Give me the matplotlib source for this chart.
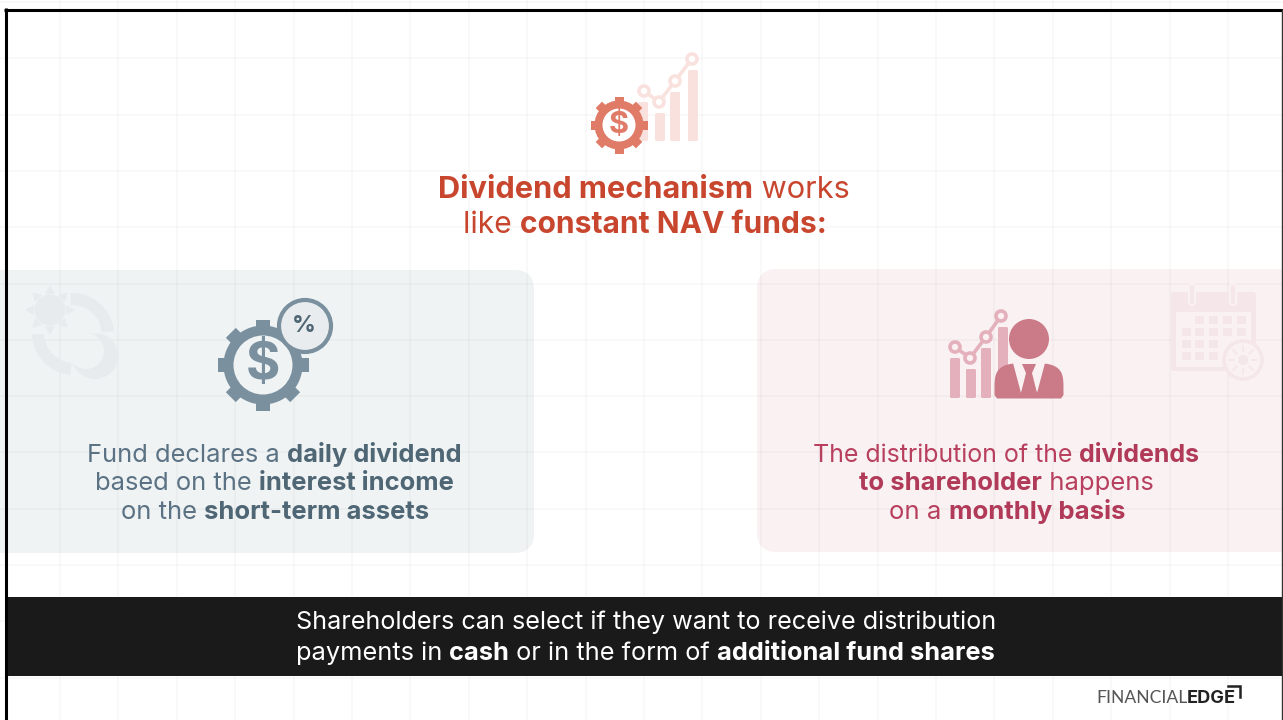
import numpy as np
import matplotlib
matplotlib.use("Agg")
import matplotlib.pyplot as plt
from matplotlib.patches import Circle, FancyBboxPatch, Polygon, Rectangle

FONT = "Inter"

# text, each run is (string, bold)
title_lines = [
    [("Dividend mechanism", True), (" works", False)],
    [("like ", False), ("constant NAV funds:", True)],
]
left_lines = [
    [("Fund declares a ", False), ("daily dividend", True)],
    [("based on the ", False), ("interest income", True)],
    [("on the ", False), ("short-term assets", True)],
]
right_lines = [
    [("The distribution of the ", False), ("dividends", True)],
    [("to shareholder", True), (" happens", False)],
    [("on a ", False), ("monthly basis", True)],
]
band_lines = [
    [("Shareholders can select if they want to receive distribution", False)],
    [("payments in ", False), ("cash", True), (" or in the form of ", False), ("additional fund shares", True)],
]

# icon chart bars (height tops in px)
top_bar_x = [638, 655, 670, 688]
top_bar_top = [102, 113, 92, 70]
top_line_x = [644, 659, 675, 692]
top_line_y = [91, 102, 81, 59]
person_bar_x = [950, 966, 981, 998]
person_bar_top = [358, 369, 348, 327]
person_line_x = [955, 970, 986, 1001]
person_line_y = [347, 358, 337, 316]

# calendar cells: row y, column x
cal_cols = [1186, 1199, 1213, 1227, 1241]
cal_rows = [320, 332, 344, 356]
cal_used = [[1, 2, 3, 4], [0, 1, 2, 3, 4], [0, 1, 2], [0, 1, 2]]

grid_x = [60 + 58.4 * i for i in range(21)]
grid_y = [2 + 56.3 * i for i in range(13)]

fig = plt.figure(figsize=(12.83, 7.2), dpi=100)
ax = fig.add_axes([0, 0, 1, 1])
ax.set_xlim(0, 1283)
ax.set_ylim(720, 0)
ax.axis("off")


def run_width(s, bold, size, family=FONT):
    # x on both sides so the spaces get counted
    t1 = ax.text(0, 0, "x" + s + "x", fontsize=size, family=family, fontweight="bold" if bold else "normal")
    t2 = ax.text(0, 0, "xx", fontsize=size, family=family, fontweight="bold" if bold else "normal")
    r = fig.canvas.get_renderer()
    w = t1.get_window_extent(r).width - t2.get_window_extent(r).width
    t1.remove()
    t2.remove()
    return w


def rich_line(runs, left, width, y, size, color, bold_color=None, family=FONT):
    # sized to the width of the line, starts at left
    total = sum(run_width(s, b, size, family) for s, b in runs)
    size2 = size * width / total
    x = left
    for s, b in runs:
        c = (bold_color or color) if b else color
        ax.text(x, y, s, fontsize=size2, family=family, fontweight="bold" if b else "normal",
                color=c, va="baseline", ha="left", zorder=6)
        x += run_width(s, b, size2, family)


def ring(cx, cy, r, fill, edge, lw):
    ax.add_patch(Circle((cx, cy), r, facecolor=fill, edgecolor=edge, linewidth=lw, zorder=5))


def gear(cx, cy, r_out, r_body, r_in, color, fill, n=8, tooth=None):
    tooth = tooth or r_out * 0.32
    for i in range(n):
        a = i * 2 * np.pi / n
        ca, sa = np.cos(a), np.sin(a)
        pts = [(-tooth / 2, r_body - 2), (tooth / 2, r_body - 2), (tooth / 2, r_out), (-tooth / 2, r_out)]
        pts = [(cx + px * ca - py * sa, cy + px * sa + py * ca) for px, py in pts]
        ax.add_patch(Polygon(pts, closed=True, facecolor=color, edgecolor="none", zorder=4))
    ax.add_patch(Circle((cx, cy), r_body, facecolor=color, edgecolor="none", zorder=4))
    ax.add_patch(Circle((cx, cy), r_in, facecolor=fill, edgecolor="none", zorder=4))


def arc_band(cx, cy, r1, r2, a1, a2, color):
    a = np.radians(np.linspace(a1, a2, 40))
    pts = np.r_[np.c_[cx + r2 * np.cos(a), cy + r2 * np.sin(a)],
                np.c_[cx + r1 * np.cos(a[::-1]), cy + r1 * np.sin(a[::-1])]]
    ax.add_patch(Polygon(pts, closed=True, facecolor=color, edgecolor="none", zorder=3))


def bars_line(bar_x, bar_top, line_x, line_y, bottom, w, color, fill, lw, r):
    for x, t in zip(bar_x, bar_top):
        ax.add_patch(FancyBboxPatch((x, t), w, bottom - t, boxstyle="round,pad=0,rounding_size=1.5",
                                    facecolor=color, edgecolor="none", zorder=3))
    ax.plot(line_x, line_y, color=color, lw=lw, zorder=3)
    for x, y in zip(line_x, line_y):
        ax.add_patch(Circle((x, y), r, facecolor=fill, edgecolor=color, linewidth=lw, zorder=3))


# cards
ax.add_patch(FancyBboxPatch((-40, 270), 574, 283, boxstyle="round,pad=0,rounding_size=20",
                            facecolor="#EFF3F4", edgecolor="none", zorder=1))
ax.add_patch(FancyBboxPatch((757, 269), 580, 283, boxstyle="round,pad=0,rounding_size=20",
                            facecolor="#FAF1F3", edgecolor="none", zorder=1))

# background grid, see-through so it shows on the cards too
for x in grid_x:
    ax.plot([x, x], [0, 720], color="black", alpha=0.028, lw=1.3, zorder=2)
for y in grid_y:
    ax.plot([0, 1283], [y, y], color="black", alpha=0.028, lw=1.3, zorder=2)

# top icon
bars_line(top_bar_x, top_bar_top, top_line_x, top_line_y, 141, 10, "#F9E2DE", "white", 2.6, 5)
gear(619, 125, 28.5, 24.5, 16.5, "#E07B68", "white", tooth=9)
ax.text(619, 125, "$", fontsize=22, family=FONT, fontweight="bold", color="#E07B68", ha="center", va="center", zorder=5)

# left big gear
gear(263, 365, 45.5, 39.5, 29.5, "#7A909F", "#EFF3F4", tooth=14)
ax.text(263, 365, "$", fontsize=38, family=FONT, fontweight="bold", color="#7A909F", ha="center", va="center", zorder=5)
ring(305, 326, 26, "#E8ECEE", "#7A909F", 3)
ax.text(304, 326, "%", fontsize=17, family=FONT, fontweight="bold", color="#4F6675", ha="center", va="center", zorder=6)

# faded sun and cycle arrows
sun_c = "#E7EBEE"
for i in range(8):
    a = i * np.pi / 4 - np.pi / 2
    tip = (50 + 25 * np.cos(a), 310 + 25 * np.sin(a))
    p1 = (50 + 17 * np.cos(a - 0.3), 310 + 17 * np.sin(a - 0.3))
    p2 = (50 + 17 * np.cos(a + 0.3), 310 + 17 * np.sin(a + 0.3))
    ax.add_patch(Polygon([tip, p1, p2], closed=True, facecolor=sun_c, edgecolor="none", zorder=3))
ax.add_patch(Circle((50, 310), 15.5, facecolor=sun_c, edgecolor="none", zorder=3))
arc_band(72, 335, 30, 42, -92, -5, sun_c)
arc_band(74, 333, 30, 42, 95, 178, sun_c)
a = np.radians(np.linspace(-75, 150, 40))
b = np.radians(np.linspace(150, -75, 40))
cres = np.r_[np.c_[95 + 23 * np.cos(a), 356 + 23 * np.sin(a)], np.c_[86 + 18 * np.cos(b), 351 + 18 * np.sin(b)]]
ax.add_patch(Polygon(cres, closed=True, facecolor=sun_c, edgecolor="none", zorder=3))

# person with chart
bars_line(person_bar_x, person_bar_top, person_line_x, person_line_y, 398, 10, "#E4B0BC", "#FAF1F3", 2.6, 5)
ax.add_patch(Circle((1029, 339), 20, facecolor="#CB7A88", edgecolor="none", zorder=4))
t = np.linspace(0, np.pi, 60)
bx = 1029 + 34.5 * np.sign(np.cos(t)) * np.abs(np.cos(t)) ** 0.6
by = 392 - 29 * np.sin(t) ** 0.5
shoulders = np.r_[np.c_[bx, by], [[994.5, 395], [997, 398.5], [1061, 398.5], [1063.5, 395]]]
ax.add_patch(Polygon(shoulders, closed=True, facecolor="#CB7A88", edgecolor="none", zorder=4))
ax.add_patch(Polygon([(1013, 363), (1045, 363), (1037, 393), (1029, 372), (1021, 393)], closed=True,
                     facecolor="#FAF1F3", edgecolor="none", zorder=5))
ax.add_patch(Polygon([(1022, 364), (1036, 364), (1032, 373), (1037, 393), (1021, 393), (1026, 373)], closed=True,
                     facecolor="#CB7A88", edgecolor="none", zorder=5))

# calendar
cal_c = "#F5E6E9"
ax.add_patch(FancyBboxPatch((1171, 292), 85, 79, boxstyle="round,pad=0,rounding_size=3",
                            facecolor=cal_c, edgecolor="none", zorder=3))
ax.add_patch(Rectangle((1176, 312), 75, 55, facecolor="#FAF1F3", edgecolor="none", zorder=3))
for rx in [1192, 1233]:
    ax.plot([rx, rx], [287, 302], color="#FAF1F3", lw=6, solid_capstyle="round", zorder=3)
    ax.plot([rx, rx], [287, 302], color=cal_c, lw=3, solid_capstyle="round", zorder=3)
for row, used in zip(cal_rows, cal_used):
    for c in used:
        ax.add_patch(Rectangle((cal_cols[c] - 4.5, row - 4), 9, 8, facecolor=cal_c, edgecolor="none", zorder=3))
ring(1243, 360, 19, "#FAF1F3", cal_c, 2.5)
ax.add_patch(Circle((1243, 360), 5, facecolor=cal_c, edgecolor="none", zorder=5))
for i in range(8):
    a = i * np.pi / 4
    ax.plot([1243 + 9 * np.cos(a), 1243 + 14 * np.cos(a)], [360 + 9 * np.sin(a), 360 + 14 * np.sin(a)],
            color=cal_c, lw=1.2, zorder=5)

# dark band and frame
ax.add_patch(Rectangle((5, 597), 1278, 79, facecolor="#1A1A1A", edgecolor="none", zorder=5))
ax.plot([5.5, 5.5], [8, 720], color="black", lw=2.2, solid_capstyle="butt", zorder=7)
ax.plot([4, 1283], [9.5, 9.5], color="black", lw=2.2, solid_capstyle="butt", zorder=7)
ax.plot([1282, 1282], [9, 720], color="#333333", lw=1, solid_capstyle="butt", zorder=7)

# text
rich_line(title_lines[0], 438, 413, 198, 21, "#C8452E")
rich_line(title_lines[1], 463, 364, 233, 21, "#C8452E")
rich_line(left_lines[0], 87, 374, 462, 18, "#5B7284", "#4F6675")
rich_line(left_lines[1], 95, 358, 490, 18, "#5B7284", "#4F6675")
rich_line(left_lines[2], 121, 307, 519, 18, "#5B7284", "#4F6675")
rich_line(right_lines[0], 813, 387, 462, 18, "#B8405E", "#B03A58")
rich_line(right_lines[1], 859, 294, 490, 18, "#B8405E", "#B03A58")
rich_line(right_lines[2], 889, 235, 519, 18, "#B8405E", "#B03A58")
rich_line(band_lines[0], 296, 698, 629, 18, "white")
rich_line(band_lines[1], 296, 697, 660, 18, "white")

# logo
rich_line([("FINANCIAL", False)], 1096, 90, 703, 13, "#555555", family="Lato")
rich_line([("EDGE", True)], 1187, 49, 703, 13, "#222222")
ax.plot([1228, 1240, 1240], [686, 686, 697], color="#222222", lw=1.8, zorder=6, solid_joinstyle="miter")

fig.savefig("out.png", dpi=100)
